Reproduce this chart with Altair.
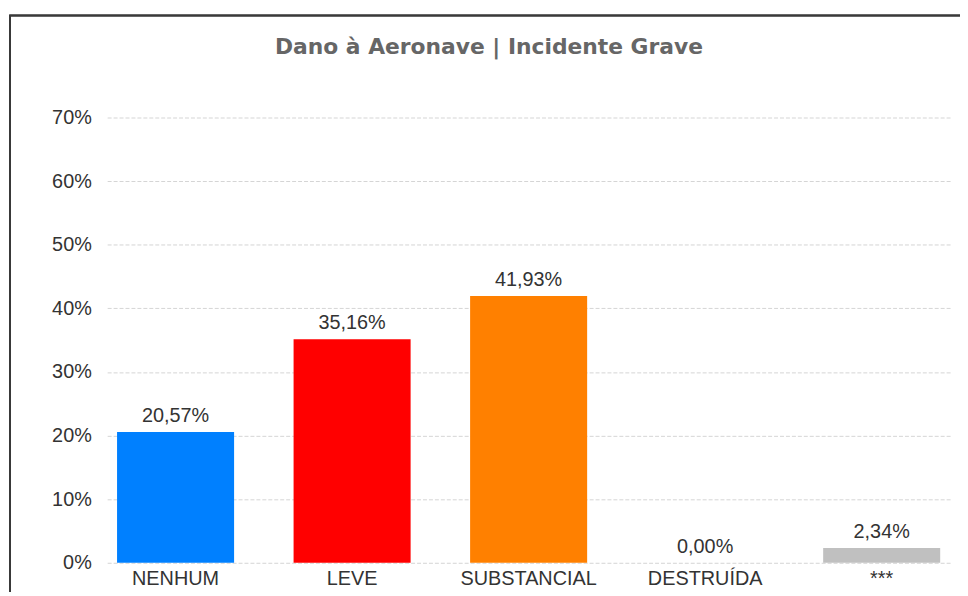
import altair as alt
import pandas as pd

categories = ["NENHUM", "LEVE", "SUBSTANCIAL", "DESTRUÍDA", "***"]
values = [20.57, 35.16, 41.93, 0.00, 2.34]
labels = ["20,57%", "35,16%", "41,93%", "0,00%", "2,34%"]
colors = ["#0080FF", "#FF0000", "#FF8000", "#404040", "#C0C0C0"]
y_ticks = [0, 10, 20, 30, 40, 50, 60, 70]

df = pd.DataFrame({"cat": categories, "val": values, "label": labels})

FONT = "Liberation Sans"

x_enc = alt.X(
    "cat:N",
    sort=categories,
    title=None,
    scale=alt.Scale(paddingInner=0.337, paddingOuter=0.056),
    axis=alt.Axis(labelAngle=0, domain=False, ticks=False, grid=False,
                  labelFont=FONT, labelFontSize=20, labelColor="#333333",
                  labelPadding=6),
)
y_enc = alt.Y(
    "val:Q",
    title=None,
    scale=alt.Scale(domain=[0, 70], nice=False),
    axis=alt.Axis(values=y_ticks, labelExpr="datum.value + '%'", domain=False,
                  ticks=False, grid=True, gridDash=[4, 2], gridColor="#d4d4d4",
                  gridWidth=1, labelFont=FONT, labelFontSize=20,
                  labelColor="#333333", labelPadding=16),
)

bars = alt.Chart(df).mark_bar().encode(
    x=x_enc,
    y=y_enc,
    color=alt.Color("cat:N", sort=categories,
                    scale=alt.Scale(domain=categories, range=colors), legend=None),
)

text = alt.Chart(df).mark_text(
    baseline="bottom", dy=-6, font=FONT, fontSize=20, color="#333333"
).encode(
    x=alt.X("cat:N", sort=categories),
    y=alt.Y("val:Q"),
    text="label:N",
)

frame = alt.Chart(df).mark_rect(
    filled=False, stroke="#3a3a3a", strokeWidth=1.5
).encode(
    x=alt.value(-98), x2=alt.value(1000), y=alt.value(-103), y2=alt.value(700)
)

chart = alt.layer(bars, text, frame).properties(
    width=850,
    height=449,
    background="white",
    title=alt.TitleParams(
        "Dano à Aeronave | Incidente Grave",
        font="DejaVu Sans", fontSize=22, fontWeight="bold", color="#666666",
        anchor="middle", frame="group", offset=-45, dx=-40,
    ),
    autosize=alt.AutoSizeParams(type="none"),
    padding={"left": 100, "top": 108, "right": 10, "bottom": 27},
).configure_view(strokeWidth=0)

chart.save("out.html", embed_options={"renderer": "svg", "actions": False})
